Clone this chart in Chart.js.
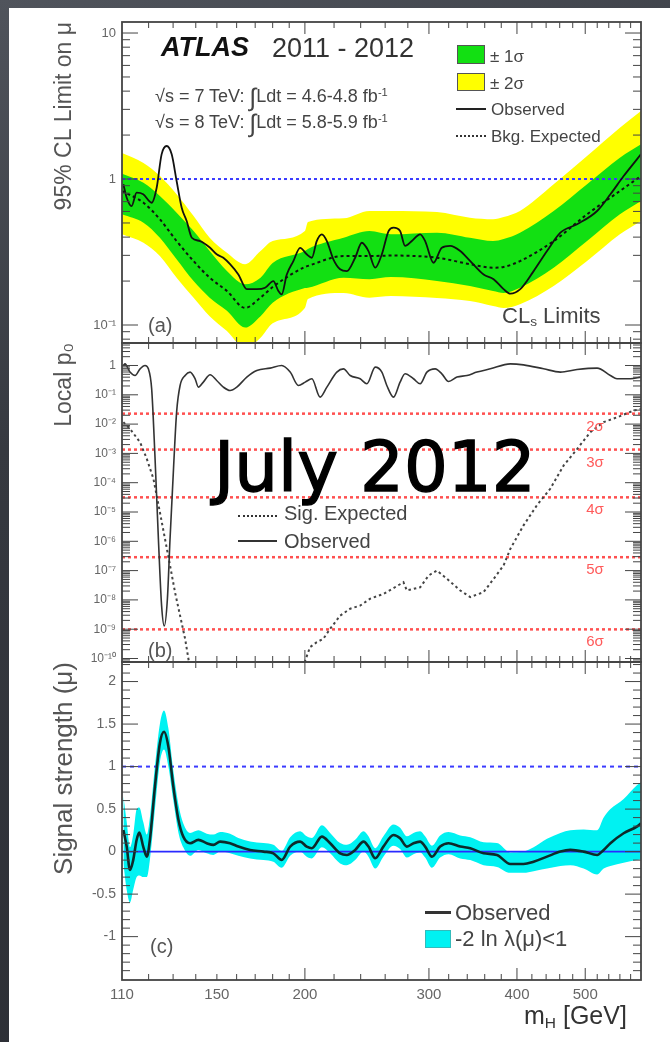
<!DOCTYPE html>
<html>
<head>
<meta charset="utf-8">
<script src="https://cdn.jsdelivr.net/npm/chart.js@4.4.1/dist/chart.umd.min.js"></script>
<style>
  html, body { margin: 0; padding: 0; }
  body {
    width: 670px; height: 1042px; position: relative; overflow: hidden;
    background: linear-gradient(160deg, #50545c 0%, #363940 35%, #2a2c32 100%);
    font-family: "Liberation Sans", Arial, Helvetica, sans-serif;
  }
  #sheet { position: absolute; left: 9px; top: 8px; width: 661px; height: 1034px; background: #fff; }
  canvas { position: absolute; left: 0; }
  .t { position: absolute; white-space: nowrap; line-height: 1; color: #444; z-index: 5; }
  .box { position: absolute; z-index: 5; box-sizing: border-box; }
  sub { font-size: 62%; vertical-align: -0.25em; line-height: 0; }
  sup { font-size: 62%; vertical-align: 0.5em; line-height: 0; }
  .sig { color: #ff5a5a; font-size: 15px; width: 40px; text-align: center; margin-left: -20px; }
</style>
</head>
<body>
<div id="sheet"></div>
<canvas id="chartA" width="670" height="350" style="top:0px"></canvas>
<canvas id="chartB" width="670" height="334" style="top:336px"></canvas>
<canvas id="chartC" width="670" height="387" style="top:655px"></canvas>

<!-- panel (a) annotations -->
<div class="t" style="left:161px;top:34px;font-size:27px;font-weight:bold;font-style:italic;color:#111">ATLAS</div>
<div class="t" style="left:272px;top:35px;font-size:27px;color:#333">2011 - 2012</div>
<div class="t" style="left:155px;top:85px;font-size:18px">√s = 7 TeV: <span style="font-size:25px;vertical-align:-4px">∫</span>Ldt = 4.6-4.8 fb<sup>-1</sup></div>
<div class="t" style="left:155px;top:111px;font-size:18px">√s = 8 TeV: <span style="font-size:25px;vertical-align:-4px">∫</span>Ldt = 5.8-5.9 fb<sup>-1</sup></div>

<div class="box" style="left:457px;top:45px;width:28px;height:19px;background:#12e012;border:1px solid #555"></div>
<div class="t" style="left:490px;top:48px;font-size:17px">± 1σ</div>
<div class="box" style="left:457px;top:73px;width:28px;height:18px;background:#ffff00;border:1px solid #555"></div>
<div class="t" style="left:490px;top:75px;font-size:17px">± 2σ</div>
<div class="box" style="left:456px;top:108px;width:30px;height:2px;background:#222"></div>
<div class="t" style="left:491px;top:101px;font-size:17px">Observed</div>
<div class="box" style="left:456px;top:135px;width:30px;height:0;border-top:2px dotted #333"></div>
<div class="t" style="left:491px;top:128px;font-size:17px">Bkg. Expected</div>

<div class="t" style="left:502px;top:305px;font-size:22px">CL<sub>s</sub> Limits</div>
<div class="t" style="left:148px;top:315px;font-size:20px;color:#555">(a)</div>

<!-- panel (b) annotations -->
<div class="box" style="left:238px;top:515px;width:39px;height:0;border-top:2px dotted #333"></div>
<div class="t" style="left:284px;top:503px;font-size:20px">Sig. Expected</div>
<div class="box" style="left:238px;top:540px;width:39px;height:2px;background:#333"></div>
<div class="t" style="left:284px;top:531px;font-size:20px">Observed</div>
<div class="t" style="left:148px;top:640px;font-size:20px;color:#555">(b)</div>
<div class="t" style="left:214px;top:433px;font-size:69px;color:#000;font-family:'DejaVu Sans',sans-serif;-webkit-text-stroke:1.4px #000;z-index:6">July 2012</div>

<!-- panel (c) annotations -->
<div class="box" style="left:425px;top:911px;width:26px;height:3px;background:#333"></div>
<div class="t" style="left:455px;top:902px;font-size:22px">Observed</div>
<div class="box" style="left:425px;top:930px;width:26px;height:18px;background:#00f2f2;border:1px solid #3bb"></div>
<div class="t" style="left:455px;top:928px;font-size:22px">-2 ln λ(μ)&lt;1</div>
<div class="t" style="left:150px;top:936px;font-size:20px;color:#555">(c)</div>
<div class="t" style="left:524px;top:1003px;font-size:25px;color:#333">m<sub>H</sub> [GeV]</div>

<script>
// ---------- Panel (a): 95% CL limit on mu ----------
const massLimit   = [110, 118, 124.5, 131.5, 139, 146.5, 155, 164.5, 173, 180, 200, 202, 227, 247, 265, 308, 343, 370, 383, 404, 451, 503, 560, 600];
const limitExp    = [0.828, 0.688, 0.530, 0.376, 0.274, 0.211, 0.171, 0.131, 0.154, 0.182, 0.250, 0.254, 0.297, 0.297, 0.299, 0.289, 0.261, 0.247, 0.250, 0.274, 0.376, 0.573, 0.828, 1.048];
const limitPlus1  = [1.087, 0.943, 0.765, 0.588, 0.440, 0.321, 0.234, 0.190, 0.211, 0.266, 0.321, 0.332, 0.396, 0.440, 0.418, 0.429, 0.396, 0.376, 0.388, 0.429, 0.604, 0.920, 1.40, 1.729];
const limitMinus1 = [0.573, 0.502, 0.396, 0.282, 0.200, 0.154, 0.125, 0.096, 0.115, 0.142, 0.179, 0.180, 0.211, 0.206, 0.213, 0.200, 0.185, 0.171, 0.166, 0.180, 0.247, 0.376, 0.573, 0.707];
const limitPlus2  = [1.507, 1.287, 1.048, 0.786, 0.558, 0.396, 0.313, 0.261, 0.321, 0.376, 0.440, 0.508, 0.538, 0.604, 0.604, 0.594, 0.543, 0.530, 0.549, 0.604, 0.920, 1.437, 2.245, 2.92];
const limitMinus2 = [0.418, 0.366, 0.297, 0.211, 0.154, 0.115, 0.091, 0.0696, 0.0819, 0.103, 0.131, 0.151, 0.166, 0.154, 0.158, 0.153, 0.146, 0.135, 0.131, 0.139, 0.185, 0.274, 0.418, 0.516];

const massObsLimit = [110.5, 111.7, 113.5, 115.4, 117.9, 121.2, 123.2, 125.2, 127.3, 129.4, 131.5, 133.7, 135.9, 138.2, 142, 146.7, 149.9, 153.2, 156.6, 160.9, 165.4, 170.9, 175.6, 180.4, 183.4, 185.4, 188.5, 192.6, 196.9, 201.2, 204.6, 207.9, 211.4, 214.9, 219.5, 224.4, 229.4, 235.7, 240.9, 246.2, 251.7, 257.2, 262.9, 267.2, 273, 277.5, 283.7, 291.5, 296.3, 304.5, 312.9, 321.6, 332.3, 343.4, 358.7, 370.6, 382.9, 391.4, 404.4, 422.4, 441.3, 461, 486.8, 519.8, 542.9, 566.9, 592, 600];
const limitObs     = [0.92, 0.745, 0.653, 0.806, 0.786, 0.688, 0.872, 1.476, 1.683, 1.476, 0.969, 0.636, 0.516, 0.396, 0.376, 0.338, 0.305, 0.289, 0.261, 0.222, 0.176, 0.176, 0.180, 0.200, 0.171, 0.162, 0.222, 0.274, 0.338, 0.305, 0.289, 0.376, 0.418, 0.376, 0.282, 0.241, 0.234, 0.289, 0.366, 0.321, 0.247, 0.305, 0.440, 0.464, 0.440, 0.348, 0.376, 0.418, 0.376, 0.267, 0.338, 0.348, 0.321, 0.274, 0.222, 0.206, 0.176, 0.164, 0.176, 0.234, 0.321, 0.429, 0.49, 0.604, 0.786, 1.048, 1.364, 1.48];

const muReference = 1;
const limitTickValues = [0.1, 1, 10];
const limitTickLabels = ['10⁻¹', '1', '10'];

// ---------- Panel (b): local p0 ----------
const massP0Obs = [110.5, 111.1, 112.9, 114.8, 116.7, 118.6, 119.9, 121.2, 122.5, 123.9, 125.2, 126.3, 127.6, 128.7, 130.1, 131.5, 133, 135.2, 137.4, 139.7, 141.2, 143.5, 146.7, 149.9, 153.2, 156.6, 160.1, 165.4, 170.9, 178.5, 185.4, 190.6, 195.8, 200.2, 204.6, 210.2, 214.9, 222, 226.9, 231.9, 239.6, 244.9, 251.7, 257.2, 261.4, 267.2, 273, 277.5, 285.2, 291.5, 298, 306.2, 312.9, 319.9, 328.8, 339.7, 351, 366.6, 391.4, 408.7, 436.4, 461, 486.8, 519.8, 542.9, 554.7, 579.5, 600];
const p0Obs     = [1.0, 1.14, 0.596, 0.456, 0.77, 1.0, 0.77, 0.16, 8.5e-4, 1.2e-6, 6.4e-9, 1.3e-9, 1.1e-8, 1.2e-6, 2.3e-4, 0.0257, 0.208, 0.456, 0.596, 0.352, 0.183, 0.271, 0.482, 0.308, 0.183, 0.140, 0.183, 0.402, 0.675, 0.815, 1.0, 0.596, 0.208, 0.271, 0.352, 0.0835, 0.183, 0.596, 0.77, 0.456, 0.352, 0.237, 0.88, 0.596, 0.208, 0.0835, 0.271, 0.521, 0.352, 0.237, 0.596, 0.77, 0.521, 0.284, 0.402, 0.456, 0.596, 0.77, 1.14, 1.05, 0.77, 0.596, 0.73, 0.815, 0.456, 0.352, 0.352, 0.402];

// signal expectation drops below the axis between ~137 and ~200 GeV (null = gap)
const massP0Exp = [110.5, 112.9, 116.7, 119.3, 121.9, 124.5, 126.6, 128.7, 130.8, 133, 135.2, 137.4, 170, 198.5, 200.2, 203.4, 207.9, 212.4, 217.2, 224.4, 231.9, 239.6, 247.6, 258.5, 276, 279.1, 291.5, 299.7, 308, 318.3, 332.3, 343.4, 358.7, 370.6, 382.9, 391.4, 408.7, 427, 446, 466, 486.8, 508.4, 531.1, 554.7, 585.8, 600];
const p0Exp     = [1.17e-2, 6.9e-3, 2.4e-3, 6.5e-4, 1.36e-4, 9.9e-6, 1.2e-6, 1.5e-7, 1.85e-8, 2.9e-9, 4.7e-10, 4.5e-11, null, 5e-11, 8.5e-11, 2.45e-10, 3.6e-10, 4.7e-10, 1.03e-9, 2.9e-9, 5e-9, 6.4e-9, 1.1e-8, 1.6e-8, 4.0e-8, 2.1e-8, 2.7e-8, 6.8e-8, 1.0e-7, 5.2e-8, 2.1e-8, 1.25e-8, 1.85e-8, 5.2e-8, 1.5e-7, 5.5e-7, 3.5e-6, 1.7e-5, 6.2e-5, 3.9e-4, 1.4e-3, 5.3e-3, 1.17e-2, 1.7e-2, 2.9e-2, 3.3e-2];

const sigmaP      = [0.02275, 1.35e-3, 3.167e-5, 2.867e-7, 9.866e-10];
const sigmaLabels = ['2σ', '3σ', '4σ', '5σ', '6σ'];
const p0TickValues = [1, 1e-1, 1e-2, 1e-3, 1e-4, 1e-5, 1e-6, 1e-7, 1e-8, 1e-9, 1e-10];
const p0TickLabels = ['1', '10⁻¹', '10⁻²', '10⁻³', '10⁻⁴', '10⁻⁵', '10⁻⁶', '10⁻⁷', '10⁻⁸', '10⁻⁹', '10⁻¹⁰'];

// ---------- Panel (c): signal strength ----------
const massMu = [110.5, 111.7, 112.9, 114.1, 115.4, 116.4, 117.9, 119.3, 120.5, 122.5, 124.5, 126.2, 128, 130.1, 132.3, 134.4, 137.4, 141.2, 145.1, 148.3, 151.6, 156.6, 160.9, 167.2, 174.7, 180.4, 185.4, 190.6, 196.9, 201.2, 204.6, 211.4, 217.2, 224.4, 229.4, 235.7, 242.3, 246.2, 251.7, 258.5, 267.2, 273, 279.1, 285.2, 291.5, 296.3, 303, 311.2, 319.9, 332.3, 343.4, 358.7, 374.7, 391.4, 408.7, 422.4, 441.3, 461, 476.2, 497.4, 519.8, 531.1, 542.9, 566.9, 592, 600];
const muObs  = [0.255, 0.06, -0.215, -0.1, 0.14, 0.224, 0.059, -0.06, 0.138, 0.765, 1.275, 1.41, 1.235, 0.765, 0.373, 0.176, 0.099, 0.138, 0.099, 0.079, 0.118, 0.099, 0.059, 0.02, 0, -0.02, -0.098, 0.059, 0.118, 0.059, 0.04, 0.176, 0.099, -0.02, -0.039, 0.02, 0.118, 0.059, -0.078, 0.059, 0.196, 0.157, 0.059, 0.099, 0.118, 0.059, -0.059, 0.059, 0.099, 0.059, 0.04, -0.02, -0.039, -0.145, -0.145, -0.118, -0.059, 0, 0.02, 0, -0.039, 0.02, 0.099, 0.216, 0.294, 0.333];
const muUp   = [0.65, 0.35, 0.05, 0.2, 0.5, 0.52, 0.35, 0.2, 0.4, 1.0, 1.5, 1.66, 1.45, 0.95, 0.55, 0.33, 0.22, 0.25, 0.21, 0.2, 0.23, 0.21, 0.16, 0.12, 0.1, 0.08, 0.01, 0.17, 0.24, 0.18, 0.16, 0.31, 0.22, 0.1, 0.08, 0.14, 0.24, 0.18, 0.04, 0.18, 0.32, 0.28, 0.18, 0.22, 0.24, 0.18, 0.07, 0.19, 0.23, 0.19, 0.17, 0.11, 0.1, -0.01, 0.0, 0.05, 0.15, 0.22, 0.25, 0.26, 0.25, 0.4, 0.5, 0.62, 0.78, 0.82];
const muDown = [-0.14, -0.45, -0.6, -0.45, -0.3, -0.28, -0.3, -0.3, -0.1, 0.5, 1.05, 1.2, 1.0, 0.6, 0.22, 0.05, -0.05, 0.02, -0.02, -0.04, 0.0, -0.02, -0.05, -0.08, -0.1, -0.12, -0.19, -0.05, 0.0, -0.06, -0.08, 0.05, -0.02, -0.14, -0.16, -0.1, 0.0, -0.06, -0.2, -0.06, 0.07, 0.03, -0.07, -0.03, -0.01, -0.07, -0.19, -0.07, -0.03, -0.08, -0.1, -0.16, -0.18, -0.25, -0.25, -0.23, -0.2, -0.17, -0.16, -0.2, -0.27, -0.2, -0.17, -0.13, -0.1, -0.09];
const muZero = 0;
const muTickValues = [-1, -0.5, 0, 0.5, 1, 1.5, 2];
const muTickLabels = ['-1', '-0.5', '0', '0.5', '1', '1.5', '2'];

// ---------- shared mass axis ----------
const massRange = [110, 600];
const massTickValues = [110, 150, 200, 300, 400, 500];
const massTickLabels = ['110', '150', '200', '300', '400', '500'];

// ---------- helpers ----------
const FONT = "'Liberation Sans', Arial, Helvetica, sans-serif";
Chart.defaults.font.family = FONT;
const pts = (xs, ys) => xs.map((x, i) => ({ x, y: ys[i] }));
const flat = (v) => massRange.map(x => ({ x, y: v }));

function logMinors(min, max) {
  const out = [];
  for (let e = Math.floor(Math.log10(min)); e <= Math.ceil(Math.log10(max)); e++) {
    for (let k = 2; k <= 9; k++) { const v = k * Math.pow(10, e); if (v > min && v < max) out.push(v); }
  }
  return out;
}
const massMajorMarks = [200, 300, 400, 500];
const massMinorMarks = [120, 130, 140, 150, 160, 170, 180, 190, 220, 240, 260, 280, 320, 340, 360, 380, 420, 440, 460, 480, 520, 540, 560, 580];

// inward tick marks on all four sides plus the frame, as in ROOT-style plots
const frameTicks = {
  id: 'frameTicks',
  afterDraw(chart, args, o) {
    const { ctx, chartArea: a, scales } = chart;
    const xs = scales.x, ys = scales.y;
    ctx.save();
    ctx.strokeStyle = '#444';
    ctx.lineWidth = 1;
    ctx.beginPath();
    const yMark = (v, len) => {
      const p = ys.getPixelForValue(v);
      if (p < a.top - 0.5 || p > a.bottom + 0.5) return;
      ctx.moveTo(a.left, p); ctx.lineTo(a.left + len, p);
      ctx.moveTo(a.right, p); ctx.lineTo(a.right - len, p);
    };
    const xMark = (v, len) => {
      const p = xs.getPixelForValue(v);
      ctx.moveTo(p, a.top); ctx.lineTo(p, a.top + len);
      ctx.moveTo(p, a.bottom); ctx.lineTo(p, a.bottom - len);
    };
    o.yMajor.forEach(v => yMark(v, 16));
    o.yMinor.forEach(v => yMark(v, 8));
    massMajorMarks.forEach(v => xMark(v, 12));
    massMinorMarks.forEach(v => xMark(v, 6));
    ctx.stroke();
    ctx.lineWidth = 1.8;
    ctx.strokeStyle = '#444';
    ctx.strokeRect(a.left, a.top, a.right - a.left, a.bottom - a.top);
    ctx.restore();
  }
};

// the plot areas are placed by the layout padding alone; label overhang is not reserved
function noOverhang(s) { s.paddingTop = 0; s.paddingBottom = 0; s.paddingLeft = 0; s.paddingRight = 0; }

function massAxis(show) {
  return {
    type: 'logarithmic', min: massRange[0], max: massRange[1], display: show,
    grid: { display: false, drawTicks: false }, border: { display: false },
    afterBuildTicks: s => { s.ticks = massTickValues.map(v => ({ value: v })); },
    afterFit: s => { noOverhang(s); if (show) s.height = 62; },
    ticks: {
      autoSkip: false, maxRotation: 0, padding: 6, color: '#666',
      font: { size: 15 }, callback: (v, i) => massTickLabels[i]
    }
  };
}
function valueAxis(type, min, max, tickVals, tickLabels, title, titleSize, tickSize) {
  return {
    type, min, max,
    grid: { display: false, drawTicks: false }, border: { display: false },
    afterBuildTicks: s => { s.ticks = tickVals.map(v => ({ value: v })); },
    afterFit: s => { noOverhang(s); s.width = 122; },
    ticks: { autoSkip: false, padding: 6, color: '#666', font: { size: tickSize }, callback: (v, i) => tickLabels[i] },
    title: {
      display: true, text: title, align: 'end', color: '#555',
      font: { size: titleSize }, padding: { top: 65 - titleSize * 0.6, bottom: 0 }
    }
  };
}
const baseOpts = (padTop, padBottom) => ({
  responsive: false, animation: false, devicePixelRatio: 1,
  layout: { padding: { left: 0, right: 29, top: padTop, bottom: padBottom } },
  plugins: { legend: { display: false }, tooltip: { enabled: false } },
  elements: { point: { radius: 0 }, line: { borderCapStyle: 'butt' } }
});

// ---------- chart (a) ----------
const optsA = baseOpts(22, 7);
optsA.scales = {
  x: massAxis(false),
  y: valueAxis('logarithmic', 0.0753, 11.9, limitTickValues, limitTickLabels, '95% CL Limit on μ', 23, 13)
};
optsA.plugins.frameTicks = { yMajor: limitTickValues, yMinor: logMinors(0.0753, 11.9) };
new Chart(document.getElementById('chartA'), {
  type: 'line',
  data: {
    datasets: [
      { data: pts(massObsLimit, limitObs), borderColor: '#111', borderWidth: 1.8, cubicInterpolationMode: 'monotone', fill: false },
      { data: pts(massLimit, limitExp), borderColor: '#111', borderWidth: 2, borderDash: [3, 3], cubicInterpolationMode: 'monotone', fill: false },
      { data: flat(muReference), borderColor: '#3b3bff', borderWidth: 2, borderDash: [3, 3], fill: false },
      { data: pts(massLimit, limitPlus1), borderWidth: 0, backgroundColor: '#12e012', fill: '+1', cubicInterpolationMode: 'monotone' },
      { data: pts(massLimit, limitMinus1), borderWidth: 0, fill: false, cubicInterpolationMode: 'monotone' },
      { data: pts(massLimit, limitPlus2), borderWidth: 0, backgroundColor: '#ffff00', fill: '+1', cubicInterpolationMode: 'monotone' },
      { data: pts(massLimit, limitMinus2), borderWidth: 0, fill: false, cubicInterpolationMode: 'monotone' }
    ]
  },
  options: optsA,
  plugins: [frameTicks]
});

// ---------- chart (b) ----------
const p0Min = 7.6e-11, p0Max = 5.86;
const optsB = baseOpts(7, 8);
optsB.scales = {
  x: massAxis(false),
  y: valueAxis('logarithmic', p0Min, p0Max, p0TickValues, p0TickLabels, 'Local p₀', 23, 12)
};
optsB.plugins.frameTicks = { yMajor: p0TickValues, yMinor: logMinors(p0Min, p0Max) };
const sigmaSets = sigmaP.map(p => ({ data: flat(p), borderColor: '#ff5050', borderWidth: 2.5, borderDash: [3, 3], fill: false }));
const chartB = new Chart(document.getElementById('chartB'), {
  type: 'line',
  data: {
    datasets: [
      { data: pts(massP0Obs, p0Obs), borderColor: '#333', borderWidth: 1.6, cubicInterpolationMode: 'monotone', fill: false },
      { data: pts(massP0Exp, p0Exp), borderColor: '#444', borderWidth: 2, borderDash: [2.5, 3], fill: false, spanGaps: false },
      ...sigmaSets
    ]
  },
  options: optsB,
  plugins: [frameTicks]
});
// significance labels just under each line, on the right
const yb = chartB.scales.y;
sigmaP.forEach((p, i) => {
  const d = document.createElement('div');
  d.className = 't sig';
  d.textContent = sigmaLabels[i];
  d.style.left = '595px';
  d.style.top = (336 + yb.getPixelForValue(p) + 4) + 'px';
  document.body.appendChild(d);
});

// ---------- chart (c) ----------
const optsC = baseOpts(7, 0);
const muMinors = [];
for (let k = -15; k <= 22; k++) { if (k % 5 !== 0) muMinors.push(k / 10); }
optsC.scales = {
  x: massAxis(true),
  y: valueAxis('linear', -1.51, 2.23, muTickValues, muTickLabels, 'Signal strength (μ)', 26, 14)
};
optsC.plugins.frameTicks = { yMajor: muTickValues, yMinor: muMinors };
new Chart(document.getElementById('chartC'), {
  type: 'line',
  data: {
    datasets: [
      { data: pts(massMu, muObs), borderColor: '#0d2a2a', borderWidth: 2.6, cubicInterpolationMode: 'monotone', fill: false },
      { data: flat(muReference), borderColor: '#3b3bff', borderWidth: 2, borderDash: [4, 4], fill: false },
      { data: flat(muZero), borderColor: '#2a2aff', borderWidth: 1.6, fill: false },
      { data: pts(massMu, muUp), borderWidth: 0, backgroundColor: '#00f2f2', fill: '+1', cubicInterpolationMode: 'monotone' },
      { data: pts(massMu, muDown), borderWidth: 0, fill: false, cubicInterpolationMode: 'monotone' }
    ]
  },
  options: optsC,
  plugins: [frameTicks]
});
</script>
</body>
</html>
